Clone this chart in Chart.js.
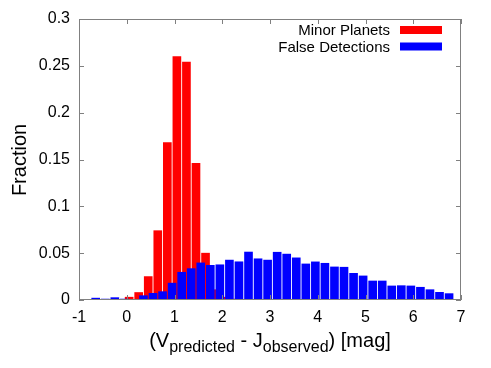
<!DOCTYPE html>
<html>
<head>
<meta charset="utf-8">
<script src="https://cdn.jsdelivr.net/npm/chart.js@4/dist/chart.umd.min.js"></script>
<style>
  html, body { margin: 0; padding: 0; background: #fff; }
</style>
</head>
<body>
<canvas id="histChart" width="491" height="368"></canvas>
<script>
// bin centres (mag) and fractions
var redX  = [-0.15, 0.05, 0.25, 0.45, 0.65, 0.85, 1.05, 1.25, 1.45, 1.65, 1.85, 2.05, 2.25];
var redY  = [0, 0.003, 0.008, 0.025, 0.074, 0.168, 0.260, 0.254, 0.146, 0.050, 0.011, 0.003, 0.001];

var blueX = [-0.85, -0.65, -0.45, -0.25, -0.05, 0.15, 0.35, 0.55, 0.75, 0.95,
             1.15, 1.35, 1.55, 1.75, 1.95, 2.15, 2.35, 2.55, 2.75, 2.95,
             3.15, 3.35, 3.55, 3.75, 3.95, 4.15, 4.35, 4.55, 4.75, 4.95,
             5.15, 5.35, 5.55, 5.75, 5.95, 6.15, 6.35, 6.55, 6.75];
var blueY = [0, 0.002, 0.001, 0.0025, 0.001, 0.0007, 0.0046, 0.0071, 0.0089, 0.018,
             0.0296, 0.0335, 0.0396, 0.037, 0.0376, 0.0426, 0.0408, 0.0512, 0.044, 0.0426,
             0.051, 0.049, 0.045, 0.0385, 0.0407, 0.0392, 0.0353, 0.035, 0.0285, 0.0257,
             0.0203, 0.0203, 0.015, 0.0153, 0.015, 0.0136, 0.011, 0.0082, 0.0068];

var seriesNames = ['Minor Planets', 'False Detections'];
var seriesColors = ['#ff0000', '#0000ff'];
var FONT = "'Liberation Sans', Arial, sans-serif";

function toPoints(xs, ys) {
  return xs.map(function (x, i) { return { x: x, y: ys[i] }; });
}

// gnuplot style frame, inward ticks, titles and legend
var gnuFrame = {
  id: 'gnuFrame',
  afterDraw: function (chart) {
    var c = chart.ctx, a = chart.chartArea;
    var sx = chart.scales.x, sy = chart.scales.y;
    c.save();
    c.strokeStyle = '#808080';
    c.lineWidth = 1;
    c.strokeRect(a.left + 0.5, a.top + 0.5, a.right - a.left - 1, a.bottom - a.top - 1);
    c.beginPath();
    sx.ticks.forEach(function (t) {
      var px = Math.round(sx.getPixelForValue(t.value)) + 0.5;
      c.moveTo(px, a.bottom); c.lineTo(px, a.bottom - 5);
      c.moveTo(px, a.top); c.lineTo(px, a.top + 5);
    });
    sy.ticks.forEach(function (t) {
      var py = Math.round(sy.getPixelForValue(t.value)) + 0.5;
      c.moveTo(a.left, py); c.lineTo(a.left + 5, py);
      c.moveTo(a.right, py); c.lineTo(a.right - 5, py);
    });
    c.stroke();

    c.fillStyle = '#000';
    // y title
    c.save();
    c.translate(20, 160);
    c.rotate(-Math.PI / 2);
    c.font = '20px ' + FONT;
    c.textAlign = 'center';
    c.textBaseline = 'middle';
    c.fillText('Fraction', 0, 0);
    c.restore();

    // x title with subscripts
    var parts = [['(V', 20, 0], ['predicted', 16, 5], [' - J', 20, 0], ['observed', 16, 5], [') [mag]', 20, 0]];
    var total = 0;
    parts.forEach(function (p) { c.font = p[1] + 'px ' + FONT; total += c.measureText(p[0]).width; });
    var x = (a.left + a.right) / 2 - total / 2;
    c.textAlign = 'left';
    c.textBaseline = 'alphabetic';
    parts.forEach(function (p) {
      c.font = p[1] + 'px ' + FONT;
      c.fillText(p[0], x, 346.5 + p[2]);
      x += c.measureText(p[0]).width;
    });

    // legend
    c.font = '15px ' + FONT;
    c.textAlign = 'right';
    seriesNames.forEach(function (name, i) {
      var base = 35 + i * 16.5;
      c.fillStyle = '#000';
      c.fillText(name, 390, base);
      c.fillStyle = seriesColors[i];
      c.fillRect(400, base - 9, 42, 8);
    });
    c.restore();
  }
};

var ctx = document.getElementById('histChart').getContext('2d');
var histChart = new Chart(ctx, {
  type: 'bar',
  data: {
    datasets: [{
      label: seriesNames[0],
      data: toPoints(redX, redY),
      backgroundColor: seriesColors[0],
      borderWidth: 0,
      barThickness: 8,
      grouped: false,
      order: 2
    }, {
      label: seriesNames[1],
      data: toPoints(blueX, blueY),
      backgroundColor: seriesColors[1],
      borderWidth: 0,
      barThickness: 8,
      grouped: false,
      order: 1
    }]
  },
  options: {
    responsive: false,
    animation: false,
    layout: { padding: { left: 0, right: 30, top: 19, bottom: 0 } },
    plugins: {
      legend: { display: false },
      tooltip: { enabled: false }
    },
    scales: {
      x: {
        type: 'linear',
        min: -1,
        max: 7,
        offset: false,
        grid: { display: false, drawTicks: false, offset: false },
        border: { display: false },
        ticks: { stepSize: 1, color: '#000', padding: 8, maxRotation: 0, font: { family: FONT, size: 16 } },
        afterFit: function (s) { s.height = 68; }
      },
      y: {
        min: 0,
        max: 0.3,
        grid: { display: false, drawTicks: false },
        border: { display: false },
        ticks: {
          stepSize: 0.05, color: '#000', padding: 9, font: { family: FONT, size: 16 },
          callback: function (v) { return String(+v.toFixed(2)); }
        },
        afterFit: function (s) { s.width = 79; }
      }
    }
  },
  plugins: [gnuFrame]
});
</script>
</body>
</html>
